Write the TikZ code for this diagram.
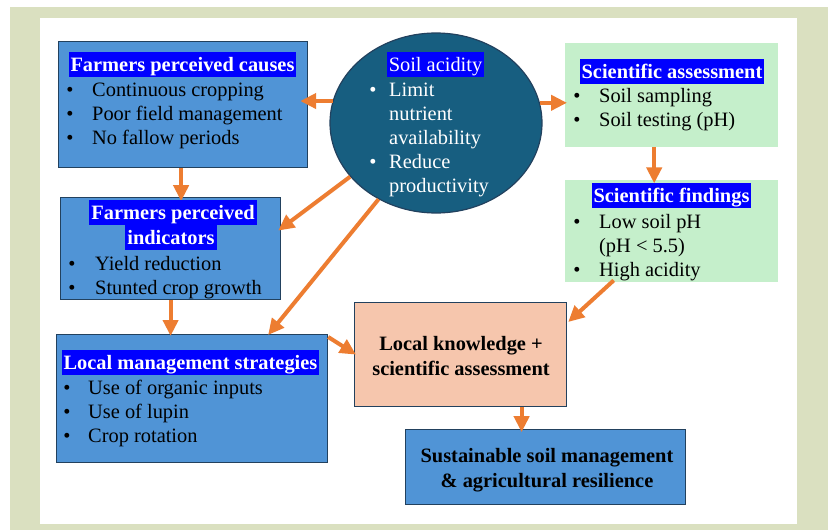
\documentclass[tikz,border=0pt]{standalone}
\usepackage{fontspec}
\setmainfont{Liberation Serif}
\usetikzlibrary{arrows.meta,shapes.geometric,calc}
\definecolor{olivebg}{HTML}{DAE0C0}
\definecolor{boxblue}{HTML}{5094D6}
\definecolor{ellblue}{HTML}{175E80}
\definecolor{boxgreen}{HTML}{C5EFCB}
\definecolor{boxpeach}{HTML}{F6C6AD}
\definecolor{arrorange}{HTML}{ED7D31}
\definecolor{bordercol}{HTML}{22415E}
\definecolor{hlblue}{HTML}{0000FF}
\begin{document}
\begin{tikzpicture}[x=1pt,y=-1pt,
  every node/.style={font=\fontsize{20.4}{24.5}\selectfont},
  bluebox/.style={draw=bordercol, fill=boxblue, line width=1.2pt, inner sep=0pt, anchor=north west},
  greenbox/.style={fill=boxgreen, inner sep=0pt, anchor=north west},
  peachbox/.style={draw=bordercol, fill=boxpeach, line width=1.2pt, inner sep=0pt, anchor=north west},
  tx/.style={anchor=base west, inner sep=0pt},
  ctx/.style={anchor=base, inner sep=0pt, font=\fontsize{20.4}{24.5}\selectfont\bfseries},
  bul/.style={anchor=base, inner sep=0pt},
  hl/.style={anchor=base, fill=hlblue, text=white, font=\fontsize{20.4}{24.5}\selectfont\bfseries, inner xsep=2pt, inner ysep=0pt, text height=19pt, text depth=6pt},
  arr/.style={draw=arrorange, line width=4pt, -{Triangle[length=16pt,width=15pt]}}
]
\useasboundingbox (0,0) rectangle (828,530);
\fill[white] (0,0) rectangle (828,530);
\fill[olivebg] (10,7) rectangle (828,530);
\fill[white] (40,18) rectangle (797,524);

% boxes
\node[bluebox, minimum width=249pt, minimum height=126pt] (causes) at (58,41) {};
\node[bluebox, minimum width=220pt, minimum height=102pt] (indic) at (60,197) {};
\node[bluebox, minimum width=271pt, minimum height=128pt] (lms) at (56,334) {};
\node[peachbox, minimum width=212pt, minimum height=104pt] (lk) at (354,302) {};
\node[bluebox, minimum width=280pt, minimum height=75pt] (sus) at (405,429) {};
\node[greenbox, minimum width=213pt, minimum height=104pt] (sciA) at (565,43) {};
\node[greenbox, minimum width=213pt, minimum height=102pt] (sciF) at (565,180) {};
\node[ellipse, draw=bordercol, fill=ellblue, line width=1.2pt, minimum width=212pt, minimum height=180pt, inner sep=0pt] (soil) at (436,123) {};

% arrows
\draw[arr] (soil.168) -- ($(causes.east |- soil.168)+(-8,0)$);
\draw[arr] (soil.11) -- ($(sciA.west |- soil.11)+(2,0)$);
\draw[arr] ($(causes.south)+(-2,0)$) -- ($(causes.south)+(-2,33)$);
\draw[arr] ($(sciA.south)+(-17.5,0)$) -- ($(sciA.south)+(-17.5,36)$);
\draw[arr] (soil.212) -- ($(indic.east)+(-3,-18)$);
\draw[arr] (soil.233) -- ($(lms.north)+(76,1)$);
\draw[arr] (indic.south) -- ($(indic.south |- lms.north)+(0,2)$);
\draw[arr] ($(lms.north east)+(0,3)$) -- ($(lk.west)+(2,0)$);
\draw[arr] ($(sciF.south)+(-58,-2)$) -- ($(lk.north east)+(1,20)$);
\draw[arr] ($(lk.south)+(61,0)$) -- ($(lk.south)+(61,25)$);

% causes text
\node[hl] (causesT) at (182.5,71) {Farmers perceived causes};
\node[bul] at (70,96) {•};  \node[tx] at (92,96) {Continuous cropping};
\node[bul] at (70,120) {•}; \node[tx] at (92,120) {Poor field management};
\node[bul] at (70,144) {•}; \node[tx] at (92,144) {No fallow periods};

% indicators text
\node[hl] (indicT1) at (173,219) {Farmers perceived\strut\ };
\node[hl] (indicT2) at (171,244) {indicators};
\node[bul] at (72,270) {•}; \node[tx] at (95,270) {Yield reduction};
\node[bul] at (72,294) {•}; \node[tx] at (95,294) {Stunted crop growth};

% soil acidity text
\node[hl, font=\fontsize{20.4}{24.5}\selectfont, text=white] (soilT) at (435.5,71) {Soil acidity};
\node[bul, text=white] at (373,96) {•};  \node[tx, text=white] at (389,96) {Limit};
\node[tx, text=white] at (389,120) {nutrient};
\node[tx, text=white] at (389,144) {availability};
\node[bul, text=white] at (373,168) {•}; \node[tx, text=white] at (389,168) {Reduce};
\node[tx, text=white] at (389,192) {productivity};

% scientific assessment
\node[hl] (sciAT) at (672,78) {Scientific assessment};
\node[bul] at (577,102) {•}; \node[tx] at (599,102) {Soil sampling};
\node[bul] at (577,126) {•}; \node[tx] at (599,126) {Soil testing (pH)};

% scientific findings
\node[hl] (sciFT) at (671.5,202) {Scientific findings};
\node[bul] at (577,228) {•}; \node[tx] at (599,228) {Low soil pH};
\node[tx] at (599,252) {(pH < 5.5)};
\node[bul] at (577,276) {•}; \node[tx] at (599,276) {High acidity};

% local management strategies
\node[hl] (lmsT) at (190.5,369) {Local management strategies};
\node[bul] at (67,394) {•}; \node[tx] at (88,394) {Use of organic inputs};
\node[bul] at (67,418) {•}; \node[tx] at (88,418) {Use of lupin};
\node[bul] at (67,442) {•}; \node[tx] at (88,442) {Crop rotation};

% local knowledge
\node[ctx] at (461,350) {Local knowledge +};
\node[ctx] at (461,375) {scientific assessment};

% sustainable
\node[ctx] at (547,462) {Sustainable soil management};
\node[ctx] at (547,487) {\& agricultural resilience};
\end{tikzpicture}
\end{document}
